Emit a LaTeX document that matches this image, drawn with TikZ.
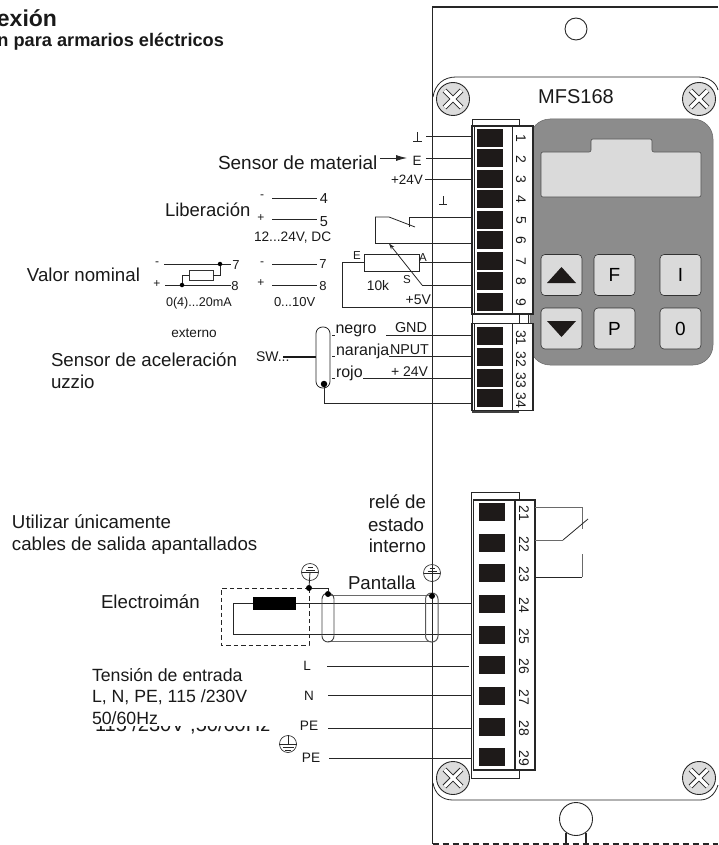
\documentclass[tikz,border=0pt]{standalone}
\usepackage{fontspec}
\setmainfont{Liberation Sans}
\usetikzlibrary{arrows.meta}
\definecolor{keypad}{HTML}{8C8C8C}
\definecolor{keylight}{HTML}{DADADA}
\definecolor{screwfill}{HTML}{DCDCDC}
\definecolor{termblack}{HTML}{1E1A19}
\definecolor{shieldgray}{HTML}{6A6A6A}
\tikzset{
  wire/.style={line width=0.8pt,draw=black!85},
  frameline/.style={line width=1.1pt,draw=black!85},
  termline/.style={line width=1.3pt,draw=black!85,fill=white},
  keybtn/.style={draw=black!80,line width=0.6pt,fill=keylight,rounded corners=4pt,minimum width=41pt,minimum height=41pt,inner sep=0pt,font=\fontsize{19}{19}\selectfont},
  txt/.style={inner sep=0pt,outer sep=0pt,text=black!90},
  sq/.style={fill=termblack,draw=none,minimum width=26pt,minimum height=18pt,inner sep=0pt},
  numlab/.style={txt,rotate=-90,font=\fontsize{14}{14}\selectfont},
  dotp/.style={circle,fill=black,inner sep=0pt,minimum size=5pt},
}
\newcommand{\lab}[6]{\node[txt,anchor=base #4,font=\fontsize{#5}{#5}\selectfont] (#1) at (#2,#3) {#6};}
\newcommand{\hwire}[4]{\coordinate (#1a) at (#2,#3); \coordinate (#1b) at (#4,#3); \draw[wire] (#1a) -- (#1b);}
\newcommand{\screw}[3]{\node[circle,draw=black!85,line width=0.9pt,fill=screwfill,minimum size=33pt,inner sep=0pt] (#1) at (#2,#3) {};
  \draw[black!85,line width=5.2pt] (#1.center)+(-8.5,-8.5) -- +(8.5,8.5) (#1.center)+(-8.5,8.5) -- +(8.5,-8.5);
  \draw[white,line width=3.2pt] (#1.center)+(-8.5,-8.5) -- +(8.5,8.5) (#1.center)+(-8.5,8.5) -- +(8.5,-8.5);}
\newcommand{\earthup}[3]{\node[circle,draw=black!80,line width=0.7pt,minimum size=17pt,inner sep=0pt] (#1) at (#2,#3) {};
  \draw[black!85,line width=0.7pt] (#1.center)+(-2.5,-5) -- +(2.5,-5) (#1.center)+(-4.5,-2) -- +(4.5,-2) (#1.center)+(-8,0) -- +(8,0);}
\begin{document}
\begin{tikzpicture}[x=1pt,y=-1pt]
\useasboundingbox (0,0) rectangle (718,845);
% title
\lab{title}{57}{27}{east}{23}{\bfseries exión}
\lab{subtitle}{224}{47}{east}{18.2}{\bfseries n para armarios eléctricos}
% keypad
\fill[keypad,draw=black!60,line width=0.5pt,rounded corners=20pt] (530,119) rectangle (713,365);
\draw[fill=keylight,draw=black!70,line width=0.6pt,rounded corners=2pt] (541,152) -- (591,152) -- (591,139) -- (652,139) -- (652,152) -- (701,152) -- (701,197) -- (541,197) -- cycle;
\node[keybtn] (kup) at (561.5,275) {};
\node[keybtn] (kf) at (614.5,275) {F};
\node[keybtn] (ki) at (680.5,275) {I};
\node[keybtn] (kdown) at (561.5,328.5) {};
\node[keybtn] (kp) at (614.5,328.5) {P};
\node[keybtn] (k0) at (680.5,328.5) {0};
\fill[termblack] (547,283) -- (576,283) -- (561.5,267) -- cycle;
\fill[termblack] (547,321) -- (576,321) -- (561.5,337) -- cycle;
% panel outline
\coordinate (panelTR) at (718,7); \coordinate (panelTL) at (432.5,7);
\coordinate (panelBL) at (432.5,844); \coordinate (panelBR) at (718,844);
\draw[frameline] (panelTR) -- (panelTL) -- (panelBL);
\draw[frameline,dashed,dash pattern=on 6pt off 4pt] (panelBL) -- (panelBR);
\node[circle,draw=black!85,line width=0.9pt,minimum size=22pt,inner sep=0pt] (holetop) at (576,29) {};
\draw[wire] (433,97) .. controls (435,84) and (444,77) .. (456,77) -- (698,77) .. controls (708,77) and (716,82) .. (718,90);
\draw[wire] (433,783) .. controls (435,794) and (442,800) .. (453,800) -- (700,800) .. controls (708,800) and (715,795) .. (718,785);
\node[circle,draw=black!85,line width=0.9pt,fill=white,minimum size=33pt,inner sep=0pt] (holebot) at (576,819) {};
\coordinate (hb1) at (566,833); \coordinate (hb2) at (566,844); \coordinate (hb3) at (586,833); \coordinate (hb4) at (586,844);
\draw[frameline] (hb1) -- (hb2) (hb3) -- (hb4);
% upper terminal blocks
\draw[termline,line width=0.9pt] (472,119) rectangle (519,126);
\draw[termline] (472,126) rectangle (512.5,314);
\draw[termline,line width=1.3pt] (512.5,126) rectangle (533,314);
\draw[wire] (474,126) -- (474,314);
\draw[wire] (472,314) rectangle (519,323.5);
\draw[wire] (519,314) rectangle (528,323.5);
\draw[termline] (472,323.5) rectangle (512.5,410.5);
\draw[termline] (512.5,323.5) rectangle (533,410.5);
\draw[wire] (474,323.5) -- (474,410.5);
\fill[black!75] (472,410.5) rectangle (519,412.5);
\foreach \n/\y in {1/138,2/158.5,3/179,4/199.3,5/219.8,6/240.2,7/260.7,8/281.1,9/301.6}{
  \node[sq] (t\n) at (490,\y) {};
  \node[numlab] (n\n) at (521,\y+0.5) {\n};
}
\foreach \n/\y in {31/336,32/357,33/378,34/398}{
  \node[sq] (t\n) at (490,\y) {};
  \node[numlab] (n\n) at (521,\y+2) {\n};
}
% lower terminal block
\draw[termline,line width=0.9pt] (471,492) rectangle (519,778);
\draw[termline] (473.5,500) rectangle (515,770);
\draw[termline] (515,500) rectangle (535,770);
\foreach \n/\y in {21/512,22/543,23/573,24/604,25/635,26/665,27/696,28/727,29/757}{
  \node[sq] (t\n) at (492,\y) {};
  \node[numlab] (n\n) at (524,\y+1) {\n};
}
% lower relay
\coordinate (r1) at (535,507); \coordinate (r2) at (582,507); \coordinate (r3) at (582,529);
\coordinate (r4) at (535,540); \coordinate (r5) at (563,540); \coordinate (r6) at (588,519);
\coordinate (r7) at (535,577); \coordinate (r8) at (582,577); \coordinate (r9) at (582,554);
\draw[wire,draw=shieldgray] (r1) -- (r2) -- (r3);
\draw[wire,draw=shieldgray] (r4) -- (r5);
\draw[wire] (r5) -- (r6);
\draw[wire] (r7) -- (r8);
\draw[wire,draw=shieldgray] (r8) -- (r9);
% upper wires
\hwire{w1}{426}{136}{472}
\hwire{w2}{426}{158}{472}
\hwire{w3}{425}{179}{472}
\draw[wire] (413,141) -- (421.5,141) (417,132) -- (417,141);
\draw[wire] (439,204) -- (447,204) (443,196) -- (443,204);
\lab{lE}{417}{165}{}{13.5}{E}
\lab{lp24}{423}{185}{east}{13.5}{+24V}
\lab{lsensor}{218}{169}{west}{19}{Sensor de material}
\coordinate (arrS) at (380,158); \coordinate (arrE) at (407,158);
\draw[wire,-{Latex[length=11pt,width=6pt]}] (arrS) -- (arrE);
% liberacion
\lab{lLib}{165}{216}{west}{18.5}{Liberación}
\lab{lm1}{262}{198}{}{12}{-}
\lab{lp1}{261}{221}{}{12}{+}
\hwire{w4}{272}{198}{317}
\hwire{w5}{272}{219}{317}
\lab{l4}{324}{204}{}{14.5}{4}
\lab{l5}{324}{226}{}{14.5}{5}
\lab{ldc}{254}{241}{west}{13.7}{12...24V, DC}
% valor nominal
\lab{lVal}{27}{281}{west}{18.7}{Valor nominal}
\lab{lm2}{157}{265}{}{12}{-}
\lab{lp2}{157}{287}{}{12}{+}
\hwire{w6}{164}{264}{231}
\hwire{w7}{165}{285}{231}
\lab{l7a}{236}{269}{}{13}{7}
\lab{l8a}{235}{290}{}{13}{8}
\node[dotp,minimum size=4.5pt] (d1) at (220,264) {};
\node[dotp,minimum size=4.5pt] (d2) at (182,285) {};
\node[draw=black!80,line width=0.7pt,minimum width=24pt,minimum height=10pt,inner sep=0pt] (Rs) at (201,275) {};
\draw[wire] (d2) |- (Rs.west);
\draw[wire] (Rs.east) -| (d1);
\lab{lma}{166}{306}{west}{12.6}{0(4)...20mA}
\lab{lm3}{262}{265}{}{12}{-}
\lab{lp3}{261}{286}{}{12}{+}
\hwire{w8}{272}{264}{317}
\hwire{w9}{272}{285}{317}
\lab{l7b}{323}{268}{}{13}{7}
\lab{l8b}{323}{290}{}{13}{8}
\lab{lv}{274}{306}{west}{13}{0...10V}
\lab{lext}{194}{337}{}{13.6}{externo}
\lab{lSA}{51}{366}{west}{18.7}{Sensor de aceleración}
\lab{lUz}{51}{388}{west}{18.7}{uzzio}
\lab{lSW}{256}{361}{west}{14}{SW...}
% relay + pot
\coordinate (c1) at (471,217); \coordinate (c2) at (409,217); \coordinate (c3) at (409,227);
\coordinate (c4) at (389,217); \coordinate (c5) at (415,227); \coordinate (c6) at (375,217);
\coordinate (c7) at (375,243); \coordinate (c8) at (472,243);
\draw[wire] (c1) -- (c2) -- (c3);
\draw[wire] (c6) -- (c4) -- (c5);
\draw[wire] (c6) -- (c7) -- (c8);
\node[draw=black!85,line width=0.8pt,minimum width=55pt,minimum height=17pt,inner sep=0pt] (pot) at (391.5,262.5) {};
\coordinate (p1) at (342,262.5); \coordinate (p2) at (342,307); \coordinate (p3) at (472,307);
\coordinate (pA) at (472,262.5);
\draw[wire] (pot.west) -- (p1) -- (p2) -- (p3);
\draw[wire] (pot.east) -- (pA);
\coordinate (s1) at (472,285); \coordinate (s2) at (422,285); \coordinate (s3) at (389,243.5);
\draw[wire] (s1) -- (s2);
\draw[wire,-{Stealth[length=6pt,width=4pt]}] (s2) -- (s3);
\lab{lEp}{357}{259}{}{11.5}{E}
\lab{lAp}{423}{261}{}{11.5}{A}
\lab{lSp}{407}{283}{}{11.5}{S}
\lab{l10k}{378}{290.5}{}{13.8}{10k}
\lab{l5v}{431}{304}{east}{14}{+5V}
% acceleration sensor
\coordinate (sw1) at (283,357); \coordinate (sw2) at (316,357);
\draw[line width=1.5pt,black!90] (sw1) -- (sw2);
\draw[wire,rounded corners=6.5pt] (316,327) rectangle (330,388);
\node[dotp,minimum size=6.5pt] (d3) at (324,384) {};
\coordinate (e1) at (324,403); \coordinate (e2) at (472,403);
\draw[wire] (d3) -- (e1) -- (e2);
\draw[wire] (332,335) -- (335,335) (332,356) -- (335,356) (332,378) -- (335,378);
\hwire{w31}{386}{335}{472}
\hwire{w32}{389}{356}{472}
\hwire{w33}{363}{378}{472}
\lab{lneg}{335.5}{333}{west}{16}{negro}
\lab{lnar}{336}{355}{west}{16}{naranja}
\lab{lroj}{336}{377}{west}{16}{rojo}
\lab{lgnd}{411}{332}{}{14.4}{GND}
\lab{linp}{390}{354}{west}{14.3}{NPUT}
\lab{l24b}{428}{376}{east}{14}{+ 24V}
% lower left text
\lab{lUti}{12}{528}{west}{18.7}{Utilizar únicamente}
\lab{lCab}{12}{550}{west}{18.7}{cables de salida apantallados}
\lab{lRel}{426}{508}{east}{18.7}{relé de}
\lab{lEst}{368}{531}{west}{18.7}{estado}
\lab{lInt}{426}{552}{east}{18.7}{interno}
\lab{lPan}{348}{589}{west}{18.7}{Pantalla}
\lab{lEle}{101}{608}{west}{18.7}{Electroimán}
\lab{lTen}{92}{681}{west}{17.7}{Tensión de entrada}
\lab{lLN}{92}{702}{west}{17.7}{L, N, PE, 115 /230V}
\lab{lHz}{92}{724}{west}{17.7}{50/60Hz}
\begin{scope}
\clip (90,726.5) rectangle (280,735);
\lab{lOld}{95}{731}{west}{20}{115 /230V ,50/60Hz}
\end{scope}
% electromagnet
\draw[wire,dashed,dash pattern=on 4.5pt off 3pt] (309,588) -- (221,588) -- (221,645) -- (309,645) -- (309,588);
\node[fill=black,minimum width=43pt,minimum height=13pt,inner sep=0pt] (coil) at (274.5,603.5) {};
\coordinate (m1) at (233,603); \coordinate (m2) at (233,634); \coordinate (m3) at (471,603); \coordinate (m4) at (471,634);
\draw[wire] (coil.west |- m1) -- (m1) -- (m2) -- (m4);
\draw[wire] (coil.east |- m1) -- (m3);
% shields
\draw[line width=1pt,draw=shieldgray] (328,595) -- (431,595) (328,641) -- (431,641);
\draw[line width=0.9pt,draw=black!75,rounded corners=6pt] (322,593) rectangle (334,642);
\draw[line width=1pt,draw=black!65,rounded corners=6pt] (425.5,593) rectangle (438,642);
\earthup{eA}{310}{572}
\earthup{eB}{432}{573}
\node[dotp,minimum size=6pt] (d4) at (309,588) {};
\node[dotp,minimum size=6pt] (d5) at (328,594) {};
\node[dotp,minimum size=6pt] (d6) at (432,596) {};
\draw[wire] (eA.center) -- (d4);
\draw[wire] (eB.center) -- (d6);
\draw[wire] (d4) -| (d5);
% mains
\hwire{wL}{327}{666}{469}
\hwire{wN}{328}{695}{472}
\hwire{wPa}{328}{728}{472}
\hwire{wPb}{329}{758}{472}
\lab{lL}{307}{670}{}{13.5}{L}
\lab{lN}{309}{700}{}{13.5}{N}
\lab{lPEa}{309}{730}{}{13.7}{PE}
\lab{lPEb}{311}{762}{}{13.7}{PE}
\node[circle,draw=black!80,line width=0.7pt,minimum size=17pt,inner sep=0pt] (eC) at (288,744) {};
\draw[black!85,line width=0.7pt] (eC.north) -- (eC.center) (eC.west) -- (eC.east) (282.5,747.5) -- (293.5,747.5) (285,750.5) -- (291,750.5);
% MFS label and screws
\lab{lMFS}{576}{104}{}{20}{MFS168}
\screw{s1n}{453}{99}
\screw{s2n}{699}{99}
\screw{s3n}{453}{778}
\screw{s4n}{699}{778}
\end{tikzpicture}
\end{document}
